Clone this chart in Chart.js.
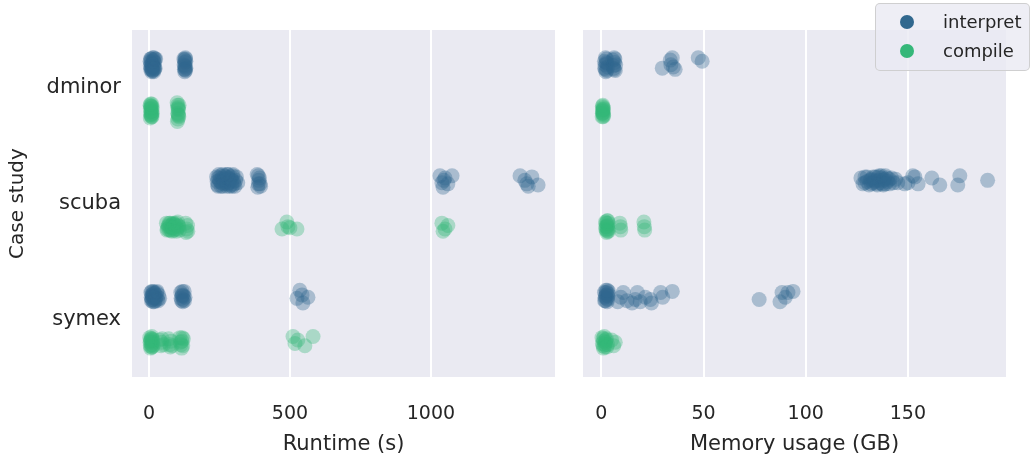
<!DOCTYPE html>
<html><head><meta charset="utf-8">
<script src="https://cdn.jsdelivr.net/npm/chart.js@4"></script>
<style>
html,body{margin:0;padding:0;background:#fff;}
#wrap{position:relative;width:1036px;height:460px;overflow:hidden;}
#c1{position:absolute;left:0;top:0;}
#c2{position:absolute;left:565px;top:0;}
#legend{position:absolute;left:875px;top:3px;width:155px;height:68px;box-sizing:border-box;border:1.5px solid rgba(204,204,204,0.9);border-radius:5px;background:rgba(234,234,242,0.8);font-family:'DejaVu Sans';font-size:18px;color:#262626;}
.item{position:absolute;left:0;height:24px;line-height:24px;}
.dot{position:absolute;left:24px;top:5px;width:14px;height:14px;border-radius:50%;}
.lab{position:absolute;left:67px;top:0;white-space:nowrap;}
</style>
</head><body>
<div id="wrap">
<canvas id="c1" width="570" height="460"></canvas>
<canvas id="c2" width="471" height="460"></canvas>
<div id="legend">
 <div class="item" style="top:6px"><span class="dot" style="background:rgb(49,104,142)"></span><span class="lab">interpret</span></div>
 <div class="item" style="top:35px"><span class="dot" style="background:rgb(53,183,121)"></span><span class="lab">compile</span></div>
</div>
</div>
<script>
// ---------- data ----------
const categories = ['dminor', 'scuba', 'symex'];
const hues = ['interpret', 'compile'];
const runtimeTicks = [0, 500, 1000];
const memoryTicks = [0, 50, 100, 150];

// each point: [value, jitter (category units)]
const runtime_dminor_interpret = [[4,-0.03],[6,0.04],[8,-0.05],[10,0.02],[12,-0.01],[14,0.05],[16,-0.04],[18,0.01],[20,-0.02],[22,0.03],[9,0.0],[13,-0.06],[17,0.06],[24,-0.05],
  [5,0.01],[7,-0.02],[11,0.04],[15,-0.03],[19,0.03],[21,-0.05],[6,-0.05],[10,0.06],[14,0.0],[18,-0.06],[8,0.03],[12,0.05],[16,0.02],[20,0.04],
  [124,-0.05],[126,0.04],[128,-0.02],[130,0.05],[127,0.01],[129,-0.06],[131,0.03],[125,0.0],[126,-0.04],[128,0.04],[130,-0.05],[127,0.06],[129,0.02],[131,-0.03]];
const runtime_dminor_compile = [[4,-0.05],[6,0.03],[8,-0.02],[9,0.05],[11,0.0],[7,-0.04],[5,0.06],[10,-0.06],[12,0.02],[8,0.04],
  [5,-0.02],[7,0.01],[9,-0.04],[11,0.05],[6,-0.06],[10,0.03],[8,0.0],[12,-0.03],
  [100,-0.07],[102,0.02],[104,-0.03],[106,0.05],[103,0.07],[105,-0.01],[101,0.09],[107,-0.05],[103,-0.02],[104,0.03],[102,-0.05],[105,0.04]];
const runtime_scuba_interpret = [[240,-0.03],[244,0.04],[248,-0.05],[252,0.01],[256,0.05],[260,-0.02],[264,0.03],[268,-0.04],[272,0.0],[276,0.05],[280,-0.05],[284,0.02],[288,-0.01],[292,0.04],[296,-0.04],[300,0.01],[305,0.05],[310,-0.03],[315,0.02],[250,0.0],[270,0.02],[290,-0.03],
  [242,0.01],[246,-0.02],[254,-0.04],[258,0.02],[262,0.05],[266,-0.01],[274,-0.03],[278,0.03],[282,-0.02],[286,0.05],[294,0.0],[298,-0.05],[302,0.03],[308,0.0],[245,0.05],[262,-0.05],[278,-0.05],[295,0.05],
  [384,-0.05],[388,0.03],[392,-0.02],[396,0.05],[390,0.0],[386,0.06],[394,0.03],[388,-0.04],
  [1032,-0.04],[1039,0.02],[1043,0.06],[1050,-0.02],[1060,0.03],[1075,-0.04],[1046,0.0],
  [1316,-0.04],[1333,0.0],[1340,0.03],[1358,-0.03],[1380,0.04],[1345,0.05]];
const runtime_scuba_compile = [[62,-0.03],[66,0.02],[70,-0.01],[73,0.03],[76,-0.03],[80,0.01],[84,-0.02],[88,0.03],[92,0.0],[96,-0.03],[100,0.02],[104,-0.01],[108,0.03],[68,0.0],[78,0.03],[86,-0.03],[94,0.02],
  [64,0.03],[72,-0.03],[82,0.04],[90,-0.02],[98,0.04],[102,-0.04],[75,0.0],[85,0.01],[95,-0.01],[106,0.0],
  [130,-0.03],[134,0.02],[137,-0.01],[138,0.04],[132,0.05],
  [472,0.02],[489,-0.04],[493,0.0],[500,0.01],[525,0.02],
  [1039,-0.03],[1043,0.04],[1050,0.02],[1060,-0.01]];
const runtime_symex_interpret = [[7,-0.03],[9,0.04],[11,-0.01],[13,0.03],[15,-0.04],[17,0.0],[19,0.05],[21,-0.02],[24,0.02],[27,-0.03],[30,0.03],[34,-0.01],[38,0.02],[12,0.0],[20,0.02],[16,-0.02],
  [8,0.01],[10,-0.04],[14,0.05],[18,-0.03],[22,0.04],[26,0.0],[29,-0.04],[33,0.04],[11,0.03],[15,0.01],
  [113,-0.03],[116,0.04],[119,-0.01],[122,0.03],[125,-0.04],[128,0.01],[120,0.05],[117,0.0],[114,0.02],[118,-0.04],[123,0.0],[126,0.04],
  [525,0.02],[535,-0.05],[543,-0.01],[546,0.06],[564,0.01]];
const runtime_symex_compile = [[3,-0.04],[5,0.03],[7,-0.01],[9,0.04],[11,-0.03],[13,0.0],[15,0.03],[6,0.05],[10,-0.05],
  [4,0.0],[8,-0.03],[12,0.04],[14,-0.02],[6,-0.02],[10,0.02],
  [38,-0.02],[43,0.03],[47,-0.03],[52,0.02],[45,0.0],
  [70,-0.03],[74,0.02],[78,-0.01],[82,0.03],[76,0.04],
  [110,-0.04],[114,0.02],[117,-0.01],[120,0.03],[122,-0.03],[116,0.05],[112,0.0],[118,-0.04],
  [511,-0.05],[518,0.01],[528,-0.02],[553,0.03],[582,-0.05]];

const memory_dminor_interpret = [[1.5,-0.03],[2.0,0.04],[2.5,-0.05],[3.0,0.02],[1.8,0.0],[2.2,0.06],[2.8,-0.01],[1.6,0.03],[2.4,-0.02],[2.0,-0.06],[2.7,0.05],
  [5.6,-0.04],[6.0,0.03],[6.4,-0.02],[6.8,0.05],[7.0,0.0],[6.2,-0.06],[5.8,0.01],[6.6,-0.05],[6.3,0.04],
  [29.8,0.03],[33.7,-0.04],[34.7,-0.06],[35.2,0.02],[36.1,0.04],[34.0,0.0],
  [47.4,-0.06],[49.3,-0.03]];
const memory_dminor_compile = [[0.5,-0.04],[0.7,0.02],[0.9,-0.01],[1.1,0.04],[0.6,0.0],[0.8,-0.03],[1.0,0.03],[0.4,0.05],
  [0.5,0.02],[0.7,-0.05],[0.9,0.05],[1.0,-0.02],[0.6,-0.01],[0.8,0.01]];
const memory_scuba_interpret = [[127,-0.02],[128,0.03],[129,-0.03],[130,0.01],[131,0.04],[132,-0.01],[133,0.02],[134,-0.03],[135,0.03],[136,0.0],[137,-0.02],[138,0.04],[139,-0.04],[140,0.01],[141,0.03],[142,-0.02],[143,0.02],[144,-0.01],[133.5,0.0],[136.5,0.02],[138.5,-0.01],[135.5,-0.03],[131.5,0.0],[137.5,0.03],
  [130,-0.03],[132,0.03],[134,0.01],[136,-0.04],[138,0.0],[140,-0.02],[135,0.04],[137,-0.04],[139,0.03],[133,-0.03],[129,0.02],[141,-0.01],
  [145,0.02],[148.5,0.03],[152.4,-0.04],[153.4,-0.03],[150,0.02],[155,0.03],[161.7,-0.02],[165.6,0.04],[174.4,0.04],[175.4,-0.04],[189,0.0]];
const memory_scuba_compile = [[2.0,-0.04],[2.5,0.03],[3.0,-0.01],[3.5,0.04],[2.2,0.0],[2.8,-0.05],[3.2,0.02],[2.6,0.05],
  [2.1,0.02],[2.4,-0.03],[2.9,0.04],[3.3,-0.03],[2.7,0.0],[3.1,-0.05],
  [9.0,-0.03],[9.5,0.03],[9.3,0.0],
  [20.8,-0.04],[21.2,0.03],[21.0,0.0]];
const memory_symex_interpret = [[1.5,-0.03],[2.0,0.04],[2.5,-0.01],[3.0,0.03],[3.5,-0.04],[1.8,0.01],[2.8,0.05],[2.2,-0.05],[3.2,0.0],
  [1.6,0.04],[2.4,-0.03],[2.6,0.02],[3.3,-0.02],[2.0,0.0],[2.9,-0.05],
  [8.0,0.05],[9.5,0.01],[10.7,-0.03],[15.0,0.06],[16.6,0.03],[17.6,-0.03],[21.5,0.01],[24.0,0.03],[24.5,0.06],[29.0,-0.03],[30.0,0.01],[34.7,-0.04],[12.5,0.04],[19.0,0.05],
  [77.2,0.03],[87.4,0.05],[88.4,-0.03],[90.0,0.01],[91.3,-0.03],[93.8,-0.04]];
const memory_symex_compile = [[0.3,-0.04],[0.8,0.03],[1.2,-0.01],[1.6,0.04],[2.0,0.0],[2.5,-0.03],[3.0,0.02],[1.0,0.05],
  [0.5,0.01],[1.4,-0.05],[1.8,0.02],[2.2,-0.02],[0.9,-0.03],[2.7,0.04],
  [5.0,-0.02],[6.0,0.03],[6.8,0.0]];

const runtimeData = {
  interpret: [runtime_dminor_interpret, runtime_scuba_interpret, runtime_symex_interpret],
  compile: [runtime_dminor_compile, runtime_scuba_compile, runtime_symex_compile]
};
const memoryData = {
  interpret: [memory_dminor_interpret, memory_scuba_interpret, memory_symex_interpret],
  compile: [memory_dminor_compile, memory_scuba_compile, memory_symex_compile]
};

// ---------- rendering ----------
const COLORS = {interpret: 'rgba(49,104,142,0.35)', compile: 'rgba(53,183,121,0.35)'};
const DODGE = {interpret: -0.2, compile: 0.2};
const FONT = 'DejaVu Sans';
const TXT = '#262626';

function buildDatasets(src) {
  return hues.map(h => ({
    label: h,
    data: src[h].flatMap((pts, ci) => pts.map(([v, j]) => ({x: v, y: ci + DODGE[h] + j}))),
    backgroundColor: COLORS[h],
    borderWidth: 0,
    pointRadius: 7.5,
    pointHoverRadius: 7.5
  }));
}

const bgPlugin = {
  id: 'bg',
  beforeDraw(chart) {
    const {ctx, chartArea: a} = chart;
    ctx.save();
    ctx.fillStyle = '#eaeaf2';
    ctx.fillRect(a.left, a.top, a.right - a.left, a.bottom - a.top);
    ctx.restore();
  }
};

function xScale(min, max, ticks, title) {
  return {
    type: 'linear', min, max,
    afterBuildTicks: s => { s.ticks = ticks.map(v => ({value: v})); },
    afterFit: s => { s.height = 83; },
    grid: {color: '#ffffff', lineWidth: 2, drawTicks: false},
    border: {display: false},
    ticks: {padding: 26, color: TXT, font: {family: FONT, size: 19}, callback: v => String(v)},
    title: {display: true, text: title, color: TXT, font: {family: FONT, size: 21}, padding: {top: 0, bottom: 3}}
  };
}

function yScale(show) {
  return {
    type: 'linear', min: -0.5, max: 2.5, reverse: true,
    display: show,
    afterBuildTicks: s => { s.ticks = [0, 1, 2].map(v => ({value: v})); },
    afterFit: s => { if (show) s.width = 132; },
    grid: {display: false, drawTicks: false},
    border: {display: false},
    ticks: {padding: 11, color: TXT, font: {family: FONT, size: 21}, callback: v => categories[v]},
    title: {display: show, text: 'Case study', color: TXT, font: {family: FONT, size: 20}, padding: {top: 6, bottom: 0}}
  };
}

const common = {
  responsive: false,
  animation: false,
  events: [],
  plugins: {legend: {display: false}, tooltip: {enabled: false}}
};

new Chart(document.getElementById('c1'), {
  type: 'scatter',
  data: {datasets: buildDatasets(runtimeData)},
  options: Object.assign({}, common, {
    layout: {padding: {top: 30, right: 15, left: 0, bottom: 0}},
    scales: {x: xScale(-60, 1440, runtimeTicks, 'Runtime (s)'), y: yScale(true)}
  }),
  plugins: [bgPlugin]
});

new Chart(document.getElementById('c2'), {
  type: 'scatter',
  data: {datasets: buildDatasets(memoryData)},
  options: Object.assign({}, common, {
    layout: {padding: {top: 30, right: 30, left: 18, bottom: 0}},
    scales: {x: xScale(-9, 198, memoryTicks, 'Memory usage (GB)'), y: yScale(false)}
  }),
  plugins: [bgPlugin]
});
</script>
</body></html>
